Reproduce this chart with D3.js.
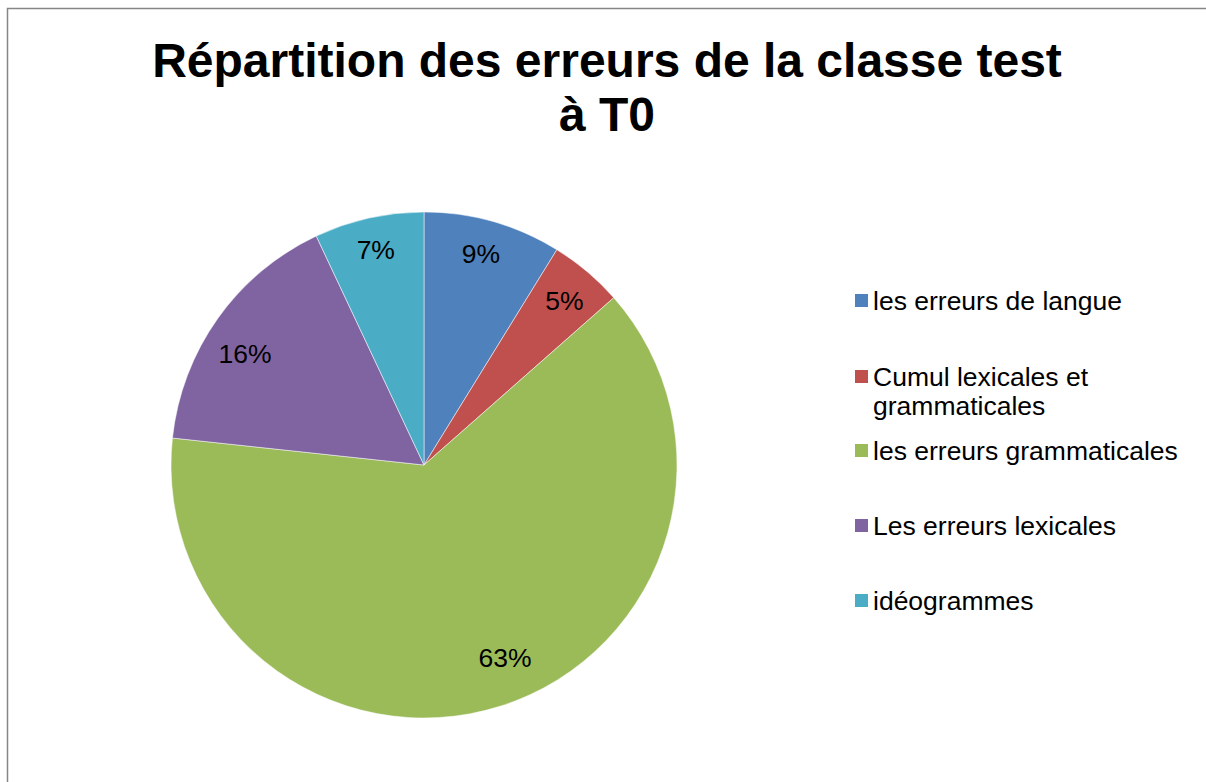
<!DOCTYPE html>
<html>
<head>
<meta charset="utf-8">
<script src="https://cdn.jsdelivr.net/npm/d3@7"></script>
<style>
    body { margin: 0; background: #fff; }
    svg { display: block; font-family: "Liberation Sans", Arial, sans-serif; }
</style>
</head>
<body>
<div id="chart"></div>
<script>
'use strict';

// Data
const categories = [
    'les erreurs de langue',
    'Cumul lexicales et grammaticales',
    'les erreurs grammaticales',
    'Les erreurs lexicales',
    'idéogrammes'
];
const shares = [8.8, 4.7, 63.2, 16.3, 7.0];
const legendLines = [
    ['les erreurs de langue'],
    ['Cumul lexicales et', 'grammaticales'],
    ['les erreurs grammaticales'],
    ['Les erreurs lexicales'],
    ['idéogrammes']
];
const colors = ['#4F81BD', '#C0504D', '#9BBB59', '#8064A2', '#4BACC6'];

// Config svg
const w = 1206;
const h = 782;

const svg = d3.select('#chart')
    .append('svg')
    .attr('width', w)
    .attr('height', h);

// Chart frame (right/bottom edges fall outside the window)
svg.append('rect')
    .attr('x', 7.5)
    .attr('y', 8.5)
    .attr('width', w + 20)
    .attr('height', h + 20)
    .attr('fill', '#fff')
    .attr('stroke', '#868686')
    .attr('stroke-width', 1.5);

// Title
const title = svg.append('text')
    .attr('text-anchor', 'middle')
    .attr('font-size', 48)
    .attr('font-weight', 'bold')
    .attr('fill', '#000');
title.append('tspan').attr('x', 607).attr('y', 77).text('Répartition des erreurs de la classe test');
title.append('tspan').attr('x', 607).attr('y', 131).text('à T0');

// Pie
const cx = 424, cy = 465, r = 253;
// best-fit label placement (radius, angle nudge in degrees) per slice
const labelR = [219, 216, 209, 211, 221];
const labelNudge = [-0.8, 0.4, -5.2, -3.5, 0];
const total = d3.sum(shares);

const pie = d3.pie().sort(null).value(d => d)(shares);
const arc = d3.arc().innerRadius(0).outerRadius(r);

const g = svg.append('g').attr('transform', `translate(${cx},${cy})`);

g.selectAll('.slice')
    .data(pie)
    .join('path')
    .attr('class', 'slice')
    .attr('d', arc)
    .attr('fill', (d, i) => colors[i])
    .attr('stroke', '#fff')
    .attr('stroke-width', 0.5);

g.selectAll('.lbl')
    .data(pie)
    .join('text')
    .attr('class', 'lbl')
    .attr('transform', (d, i) => {
        const a = (d.startAngle + d.endAngle) / 2 + labelNudge[i] * Math.PI / 180;
        return `translate(${labelR[i] * Math.sin(a)},${-labelR[i] * Math.cos(a)})`;
    })
    .attr('text-anchor', 'middle')
    .attr('dy', '0.35em')
    .attr('font-size', 26.5)
    .attr('fill', '#000')
    .text(d => d3.format('.0%')(d.data / total));

// Legend
const legendY = [301, 377, 451, 526, 601];
const legend = svg.append('g');

legendLines.forEach((lines, i) => {
    legend.append('rect')
        .attr('x', 855)
        .attr('y', legendY[i] - 7)
        .attr('width', 13)
        .attr('height', 13)
        .attr('fill', colors[i]);
    const t = legend.append('text')
        .attr('font-size', 26.5)
        .attr('fill', '#000');
    lines.forEach((line, j) => {
        t.append('tspan')
            .attr('x', 873)
            .attr('y', legendY[i] + 9 + j * 29)
            .text(line);
    });
});
</script>
</body>
</html>
